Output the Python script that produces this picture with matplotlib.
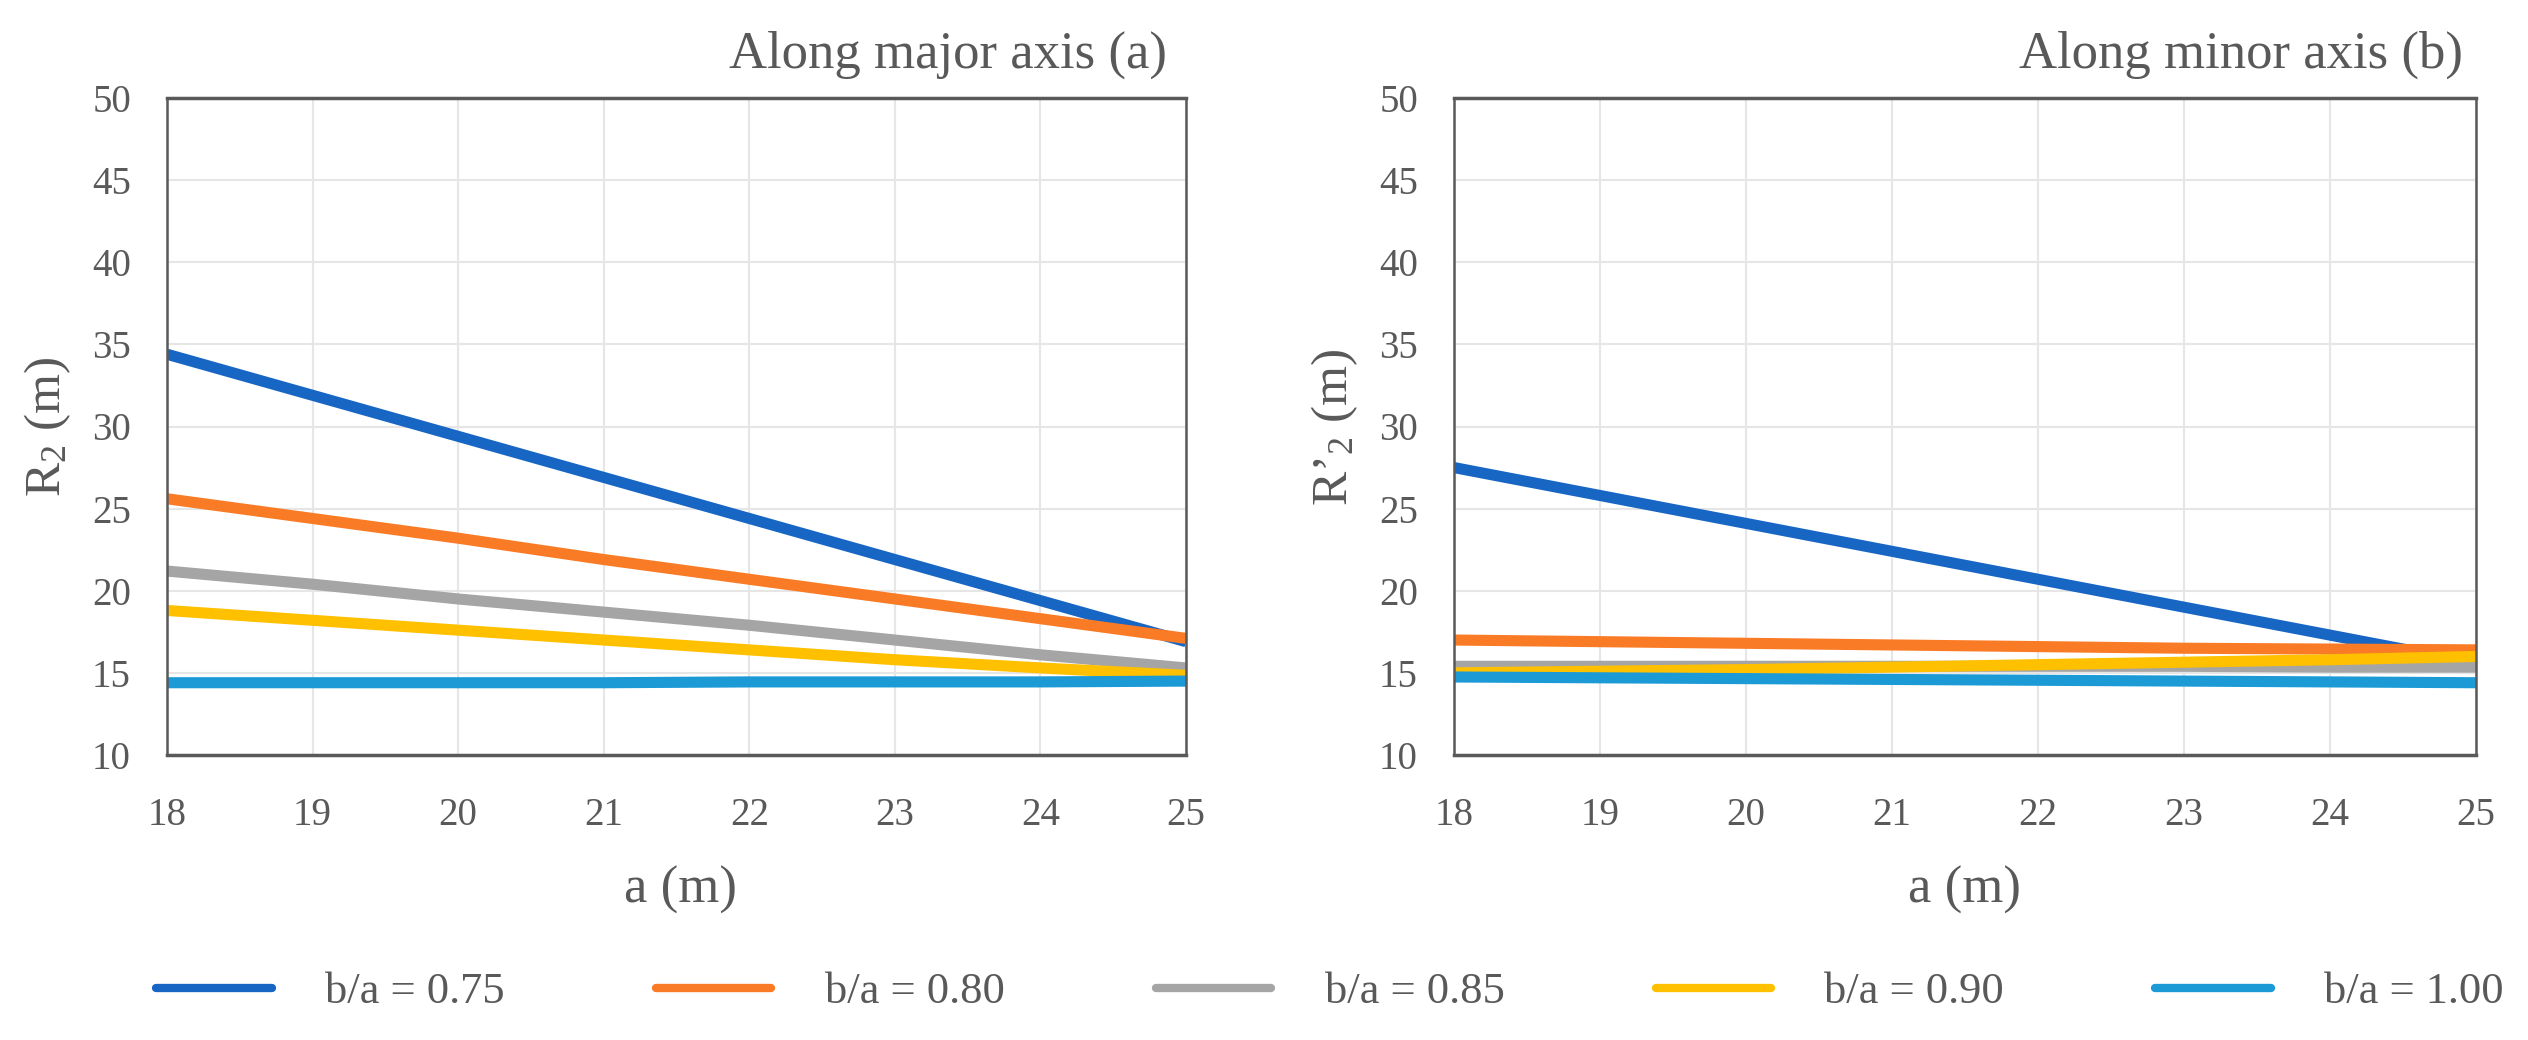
import matplotlib.pyplot as plt
import numpy as np

# data
a_vals = [18, 19, 20, 21, 22, 23, 24, 25]
ratios = ['b/a = 0.75', 'b/a = 0.80', 'b/a = 0.85', 'b/a = 0.90', 'b/a = 1.00']

# along major axis (a): R2
r2_075 = [34.4, 31.9, 29.4, 26.9, 24.4, 21.9, 19.4, 16.9]
r2_080 = [25.6, 24.4, 23.2, 21.9, 20.7, 19.5, 18.3, 17.1]
r2_085 = [21.2, 20.4, 19.5, 18.7, 17.9, 17.0, 16.1, 15.3]
r2_090 = [18.8, 18.2, 17.6, 17.0, 16.4, 15.8, 15.3, 14.85]
r2_100 = [14.4, 14.4, 14.4, 14.4, 14.45, 14.45, 14.45, 14.5]

# along minor axis (b): R'2
rp2_075 = [27.5, 25.8, 24.1, 22.4, 20.7, 19.0, 17.3, 15.6]
rp2_080 = [17.0, 16.9, 16.8, 16.7, 16.6, 16.5, 16.45, 16.4]
rp2_085 = [15.4, 15.4, 15.4, 15.4, 15.4, 15.4, 15.35, 15.35]
rp2_090 = [15.0, 15.1, 15.2, 15.35, 15.5, 15.65, 15.8, 16.0]
rp2_100 = [14.75, 14.7, 14.65, 14.6, 14.55, 14.5, 14.45, 14.4]

colors = ['#1866C4', '#FA7B26', '#A5A5A5', '#FFC000', '#1B9AD6']

plt.rcParams['font.family'] = ['Liberation Serif', 'DejaVu Serif']
plt.rcParams['mathtext.fontset'] = 'custom'
plt.rcParams['mathtext.rm'] = 'Liberation Serif'
plt.rcParams['mathtext.it'] = 'Liberation Serif:italic'
txt = '#595959'

W, H = 2528, 1040
fig = plt.figure(figsize=(W / 100, H / 100), dpi=100)

def box(x0, x1, y0, y1):
    return [x0 / W, 1 - y1 / H, (x1 - x0) / W, (y1 - y0) / H]

ax1 = fig.add_axes(box(167, 1186, 98, 755))
ax2 = fig.add_axes(box(1454, 2476, 98, 755))

series_l = [r2_075, r2_080, r2_085, r2_090, r2_100]
series_r = [rp2_075, rp2_080, rp2_085, rp2_090, rp2_100]

handles = []
for ax, series in ((ax1, series_l), (ax2, series_r)):
    for vals, col, lab in zip(series, colors, ratios):
        ln, = ax.plot(a_vals, vals, color=col, lw=8, label=lab,
                      solid_capstyle='butt')
        if ax is ax1:
            handles.append(ln)
    ax.set_xlim(18, 25)
    ax.set_ylim(10, 50)
    ax.set_xticks(a_vals)
    ax.set_yticks(np.arange(10, 51, 5))
    ax.grid(True, color='#E6E6E6', lw=1.5)
    ax.set_axisbelow(True)
    ax.tick_params(length=0, labelsize=28, colors=txt)
    ax.tick_params(axis='y', pad=26)
    ax.tick_params(axis='x', pad=30)
    for sp in ax.spines.values():
        sp.set_color('#595959')
        sp.set_linewidth(1.8)
    ax.spines['top'].set_linewidth(2.5)
    ax.spines['bottom'].set_linewidth(2.5)

# titles
fig.text(1167 / W, 1 - 68 / H, 'Along major axis (a)', ha='right',
         va='baseline', fontsize=38, color=txt)
fig.text(2463 / W, 1 - 68 / H, 'Along minor axis (b)', ha='right',
         va='baseline', fontsize=38, color=txt)

# axis labels
fig.text(48 / W, 1 - 427 / H, r'R$_2$ (m)', rotation=90, ha='center',
         va='center', fontsize=37, color=txt)
fig.text(1335 / W, 1 - 427 / H, r'R’$_2$ (m)', rotation=90, ha='center',
         va='center', fontsize=37, color=txt)
fig.text(680 / W, 1 - 890 / H, 'a (m)', ha='center', va='center',
         fontsize=38, color=txt)
fig.text(1965 / W, 1 - 890 / H, 'a (m)', ha='center', va='center',
         fontsize=38, color=txt)

leg = fig.legend(handles=handles, loc='center', ncol=5,
                 bbox_to_anchor=(1330 / W, 1 - 992 / H), frameon=False,
                 fontsize=32, handlelength=2.6, handletextpad=1.2,
                 columnspacing=3.4)
for t in leg.get_texts():
    t.set_color(txt)
for l in leg.get_lines():
    l.set_solid_capstyle('round')
    l.set_linewidth(6)

fig.savefig('out.png', dpi=100)
